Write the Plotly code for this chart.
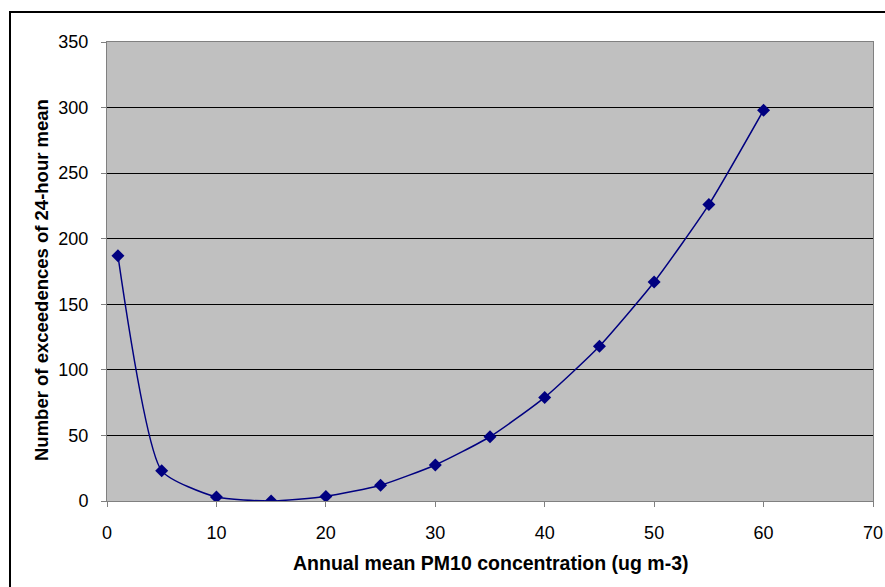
import plotly.graph_objects as go

pm10 = [1, 5, 10, 15, 20, 25, 30, 35, 40, 45, 50, 55, 60]
exceedences = [187, 23, 3, 0, 3.5, 12, 27.5, 49, 79, 118, 167, 226, 298]

x_ticks = [0, 10, 20, 30, 40, 50, 60, 70]
y_ticks = [0, 50, 100, 150, 200, 250, 300, 350]

x_title = "Annual mean PM10 concentration (ug m-3)"
y_title = "Number of exceedences of 24-hour mean"

W, H = 885, 587
L, R, T, B = 107, 12, 42, 86
pw, ph = W - L - R, H - T - B


def px_x(p):
    return (p - L) / pw


def px_y(p):
    return (H - B - p) / ph


fig = go.Figure()
fig.add_trace(go.Scatter(
    x=pm10, y=exceedences, mode="lines+markers",
    line=dict(color="#000080", width=1.5, shape="spline", smoothing=0.55),
    marker=dict(symbol="diamond", size=10, color="#000080"),
    showlegend=False,
))

font = "Liberation Sans, Arial, sans-serif"
fig.update_layout(
    width=W, height=H,
    margin=dict(l=L, r=R, t=T, b=B, pad=0, autoexpand=False),
    paper_bgcolor="white", plot_bgcolor="#C0C0C0",
    font=dict(family=font, size=18, color="black"),
    xaxis=dict(
        range=[0, 70], tickvals=x_ticks, ticks="outside", ticklen=5,
        tickcolor="#808080", showgrid=False, zeroline=False,
        showline=True, linecolor="#808080", linewidth=1, mirror=True,
        ticklabelstandoff=10, automargin=False,
    ),
    yaxis=dict(
        range=[0, 350], tickvals=y_ticks, ticks="outside", ticklen=5,
        tickcolor="#808080", showgrid=True, gridcolor="#000000", gridwidth=1,
        zeroline=False, showline=True, linecolor="#808080", linewidth=1,
        mirror=True, ticklabelstandoff=9, automargin=False,
    ),
    annotations=[
        dict(text="<b>" + x_title + "</b>", xref="paper", yref="paper",
             x=px_x(491), y=px_y(563), xanchor="center", yanchor="middle",
             showarrow=False, font=dict(size=19.5)),
        dict(text="<b>" + y_title + "</b>", xref="paper", yref="paper",
             x=px_x(41), y=px_y(280), xanchor="center", yanchor="middle",
             textangle=-90, showarrow=False, font=dict(size=18.5)),
    ],
)

fig.add_shape(type="rect", xref="paper", yref="paper",
              x0=px_x(10), x1=px_x(895), y0=px_y(12), y1=px_y(600),
              line=dict(color="black", width=2), layer="above")

fig.write_html("out.html", config={"displayModeBar": False},
               post_script="document.body.style.margin='0';document.body.style.overflow='hidden';")
